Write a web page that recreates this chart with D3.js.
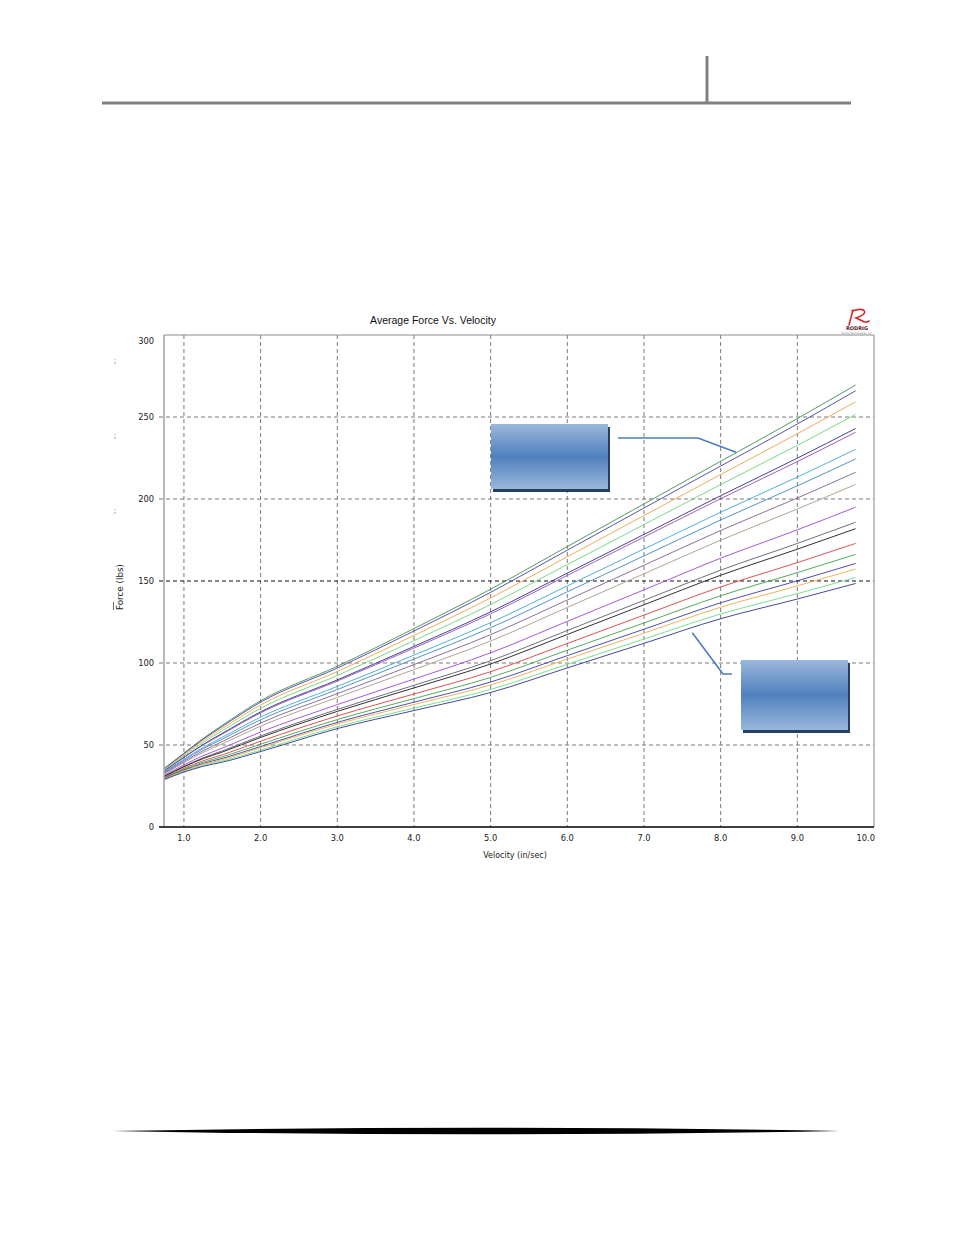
<!DOCTYPE html>
<html><head><meta charset="utf-8">
<script src="https://cdn.jsdelivr.net/npm/d3@7"></script>
<style>body{margin:0;background:#fff;} svg{display:block}</style>
</head><body>
<svg id="c" width="954" height="1235"></svg>
<script>
// ---------- data ----------
const chartTitle = "Average Force Vs. Velocity";
const xLabel = "Velocity (in/sec)";
const yLabel = "Force (lbs)";
const xTicks = [1,2,3,4,5,6,7,8,9,10];
const yTicks = [0,50,100,150,200,250,300];
const velocity = [0.75,1.0,1.25,1.5,2.0,3.0,4.0,5.0,6.0,7.0,8.0,9.0,9.76];
const f01 = [36.0,45.0,54.0,62.0,77.0,98.0,121.0,145.0,171.0,197.0,223.0,249.0,269.5];
const f02 = [35.8,44.7,53.5,61.3,76.1,96.9,119.5,143.1,168.8,194.5,220.1,245.7,266.0];
const f03 = [35.4,44.0,52.6,60.1,74.4,94.8,116.8,139.7,164.8,189.9,214.9,239.8,259.3];
const f04 = [35.0,43.3,51.5,58.7,72.4,92.4,113.6,135.7,160.0,184.4,208.8,232.7,251.6];
const f05 = [34.5,42.5,50.3,57.1,70.2,89.7,110.1,131.2,154.8,178.4,202.0,224.9,243.0];
const f06 = [34.3,42.3,50.0,56.6,69.6,89.0,109.1,130.0,153.4,176.8,200.2,222.8,240.7];
const f07 = [33.7,41.3,48.5,54.7,67.0,85.7,104.8,124.6,147.0,169.5,191.9,213.4,230.3];
const f08 = [33.4,40.7,47.7,53.6,65.4,83.8,102.4,121.5,143.4,165.3,187.2,208.0,224.4];
const f09 = [32.9,39.9,46.5,52.1,63.4,81.3,99.0,117.3,138.4,159.6,180.8,200.6,216.3];
const f10 = [32.5,39.2,45.5,50.7,61.5,79.0,96.0,113.4,133.9,154.4,174.9,193.9,208.9];
const f11 = [31.7,37.9,43.5,48.1,57.9,74.6,90.2,106.2,125.4,144.6,163.9,181.2,195.0];
const f12 = [31.2,37.0,42.2,46.4,55.5,71.7,86.4,101.4,119.8,138.2,156.6,172.9,185.8];
const f13 = [30.9,36.7,41.7,45.7,54.6,70.5,84.8,99.4,117.4,135.5,153.5,169.4,181.9];
const f14 = [30.4,35.8,40.4,44.0,52.3,67.7,81.1,94.7,111.9,129.2,146.4,161.2,172.9];
const f15 = [30.0,35.2,39.5,42.8,50.5,65.5,78.3,91.2,107.8,124.4,141.0,155.1,166.2];
const f16 = [29.7,34.7,38.7,41.8,49.1,63.8,76.1,88.4,104.5,120.6,136.7,150.1,160.7];
const f17 = [29.5,34.3,38.2,41.1,48.3,62.8,74.7,86.6,102.4,118.2,134.0,147.0,157.3];
const f18 = [29.2,33.8,37.5,40.2,46.9,61.1,72.5,83.9,99.2,114.6,129.9,142.3,152.1];
const f19 = [29.0,33.5,37.0,39.5,46.0,60.0,71.0,82.0,97.0,112.0,127.0,139.0,148.5];
const seriesColors = ["#3f8f4f","#4a3f9f","#f0a24a","#6ad67a","#2f2f7f","#8f4fbf","#3fa6d6","#3f86c6",
  "#7f5f8f","#a8988a","#9a48d8","#5f5f6f","#1a1a1a","#d84040","#3fa04f","#3a3aa8","#f0a84a","#66dd88","#34348a"];

const allSeries = [f01,f02,f03,f04,f05,f06,f07,f08,f09,f10,f11,f12,f13,f14,f15,f16,f17,f18,f19];

// ---------- layout ----------
const svg = d3.select("#c");
const x = d3.scaleLinear().domain([0.74, 10.0]).range([164, 874]);
const y = d3.scaleLinear().domain([0, 300]).range([827, 335]);

// page header
svg.append("line").attr("x1",102).attr("x2",851).attr("y1",103).attr("y2",103)
  .attr("stroke","#808080").attr("stroke-width",3);
svg.append("line").attr("x1",707).attr("x2",707).attr("y1",56).attr("y2",103)
  .attr("stroke","#808080").attr("stroke-width",3);

// footer tapered line
svg.append("path").attr("d","M112,1131 Q477,1124.5 840,1131 Q477,1137.5 112,1131 Z").attr("fill","#000");

// title
svg.append("text").attr("x",433).attr("y",324).attr("text-anchor","middle")
  .attr("font-family","Liberation Sans, Arial, sans-serif").attr("font-size",10.5).attr("fill","#111")
  .text(chartTitle);

// logo
const logo = svg.append("g");
logo.append("path").attr("d","M853,310 L849,325 M852,311 C866,306 870,314 856,318 C862,320 864,324 869,321")
  .attr("fill","none").attr("stroke","#d42a2a").attr("stroke-width",1.6).attr("stroke-linecap","round");
logo.append("text").attr("x",857).attr("y",330).attr("text-anchor","middle")
  .attr("font-family","DejaVu Sans, sans-serif").attr("font-size",5).attr("font-weight","bold").attr("fill","#5a1a1a").text("RODRIG");
logo.append("text").attr("x",857).attr("y",334).attr("text-anchor","middle")
  .attr("font-family","DejaVu Sans, sans-serif").attr("font-size",2.5).attr("fill","#888").text("Rodrig Technologies, Inc.");

// grid
const grid = svg.append("g");
grid.selectAll(".vg").data(xTicks.filter(d => d < 10)).join("line")
  .attr("x1",d=>x(d)).attr("x2",d=>x(d)).attr("y1",y(300)).attr("y2",y(0))
  .attr("stroke","#7a7a7a").attr("stroke-width",1).attr("stroke-dasharray","4,3");
grid.selectAll(".hg").data(yTicks.filter(d => d > 0 && d < 300)).join("line")
  .attr("x1",x.range()[0]-5).attr("x2",x.range()[1]).attr("y1",d=>y(d)).attr("y2",d=>y(d))
  .attr("stroke",d=> d===150 ? "#111" : "#7a7a7a").attr("stroke-width",d=> d===150 ? 1.2 : 1)
  .attr("stroke-dasharray","4,3");

// plot frame
svg.append("line").attr("x1",x.range()[0]).attr("x2",x.range()[1]).attr("y1",y(300)).attr("y2",y(300)).attr("stroke","#8a8a8a");
svg.append("line").attr("x1",x.range()[1]).attr("x2",x.range()[1]).attr("y1",y(300)).attr("y2",y(0)).attr("stroke","#8a8a8a");
svg.append("line").attr("x1",x.range()[0]).attr("x2",x.range()[0]).attr("y1",y(300)).attr("y2",y(0)).attr("stroke","#8a8a8a").attr("stroke-width",1.2);

// series
const line = d3.line().x((d,i)=>x(velocity[i])).y(d=>y(d)).curve(d3.curveMonotoneX);
svg.append("g").selectAll("path").data(allSeries).join("path")
  .attr("d", d => line(d)).attr("fill","none")
  .attr("stroke",(d,i)=>seriesColors[i]).attr("stroke-width",0.9);

// bottom axis line
svg.append("line").attr("x1",x.range()[0]-5).attr("x2",x.range()[1]).attr("y1",y(0)).attr("y2",y(0))
  .attr("stroke","#000").attr("stroke-width",1.5);

// tick labels
svg.append("g").selectAll("text").data(xTicks).join("text")
  .attr("x",d=>x(d)).attr("y",841)
  .attr("text-anchor",d=> d===10 ? "end" : "middle")
  .attr("dx",d=> d===10 ? 1 : 0)
  .attr("font-family","DejaVu Sans, sans-serif").attr("font-size",8.3).attr("fill","#222")
  .text(d=>d.toFixed(1));
svg.append("g").selectAll("text").data(yTicks).join("text")
  .attr("x",154).attr("y",d=> d===300 ? y(d)+8.5 : y(d)+3)
  .attr("text-anchor","end")
  .attr("font-family","DejaVu Sans, sans-serif").attr("font-size",8.3).attr("fill","#222")
  .text(d=>d);

// axis titles
svg.append("text").attr("x",515).attr("y",858).attr("text-anchor","middle")
  .attr("font-family","DejaVu Sans, sans-serif").attr("font-size",8).attr("fill","#222").text(xLabel);
svg.append("text").attr("transform","translate(123,587) rotate(-90)").attr("text-anchor","middle")
  .attr("font-family","DejaVu Sans, sans-serif").attr("font-size",8.8).attr("fill","#222").text(yLabel);
svg.append("line").attr("x1",113.5).attr("x2",113.5).attr("y1",602).attr("y2",610).attr("stroke","#444").attr("stroke-width",0.8);
// small clipped marks at left
svg.append("g").selectAll("text").data([360,435,510]).join("text")
  .attr("x",115).attr("y",d=>d+3).attr("text-anchor","middle")
  .attr("font-family","DejaVu Sans, sans-serif").attr("font-size",7).attr("fill","#333").text(";");

// callouts
function callout(bx,by,bw,bh,id){
  const g = svg.append("g");
  const defs = svg.append("defs");
  const gr = defs.append("linearGradient").attr("id",id).attr("x1",0).attr("x2",0).attr("y1",0).attr("y2",1);
  gr.append("stop").attr("offset","0%").attr("stop-color","#9bb7db");
  gr.append("stop").attr("offset","50%").attr("stop-color","#4f81bd");
  gr.append("stop").attr("offset","100%").attr("stop-color","#9bb7db");
  g.append("rect").attr("x",bx+2).attr("y",by+3).attr("width",bw).attr("height",bh).attr("fill","#243f60");
  g.append("rect").attr("x",bx).attr("y",by).attr("width",bw).attr("height",bh).attr("fill",`url(#${id})`);
}
callout(491,424,117,65,"g1");
callout(741,660,107,70,"g2");
svg.append("path").attr("d",`M618,438 L698,438 L${x(8.2)},${y(228.5)}`)
  .attr("fill","none").attr("stroke","#4a7ebb").attr("stroke-width",1.6);
svg.append("path").attr("d",`M${x(7.63)},${y(118.5)} L723,674 L732,674`)
  .attr("fill","none").attr("stroke","#4a7ebb").attr("stroke-width",1.6);
</script>
</body></html>
